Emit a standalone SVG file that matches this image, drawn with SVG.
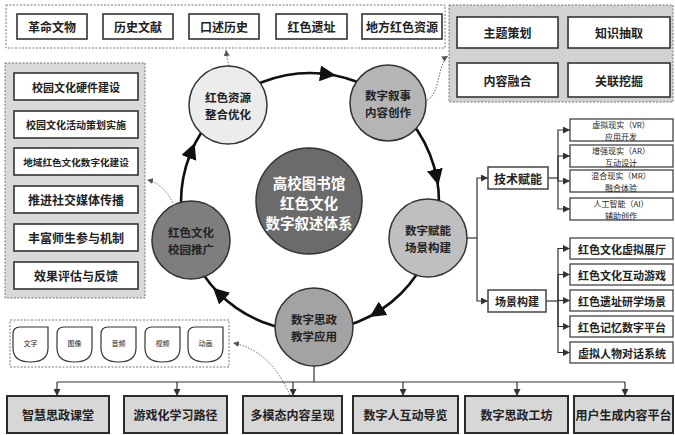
<svg xmlns="http://www.w3.org/2000/svg" width="675" height="435" viewBox="0 0 675 435">
<style>
text{font-family:"Noto Sans CJK SC","Noto Sans",sans-serif;font-weight:700;fill:#222;text-anchor:middle;dominant-baseline:central}
.box{fill:#fff;stroke:#333;stroke-width:1.6}
.pane{stroke:#777;stroke-width:1;stroke-dasharray:2 1.5}
.tb{fill:#fff;stroke:#444;stroke-width:1.3}
.bb{fill:#d7d7d7;stroke:#2a2a2a;stroke-width:2}
.node{stroke:#333;stroke-width:1.5}
.ln{fill:none;stroke:#333;stroke-width:1.2}
.la{fill:none;stroke:#333;stroke-width:1.2;marker-end:url(#a)}
.dot{fill:none;stroke:#666;stroke-width:1;stroke-dasharray:1.5 1.5;marker-end:url(#d)}
.ring{fill:none;stroke:#111;stroke-width:2.6}
.big{fill:none;stroke:#111;stroke-width:2.6;marker-end:url(#big)}
.icon{fill:#fff;stroke:#333;stroke-width:1.2}
.t12{font-size:12px}
.t11{font-size:11px}
.t10{font-size:10px}
.t8{font-size:8px;font-weight:400}
.t7{font-size:7px;font-weight:400}
.nt{font-size:11.5px}
</style>
<defs>
<marker id="a" viewBox="0 0 8 8" refX="8" refY="4" markerWidth="7" markerHeight="7" orient="auto" markerUnits="userSpaceOnUse"><path d="M0,0 L8,4 L0,8 z" fill="#333"/></marker>
<marker id="d" viewBox="0 0 8 8" refX="8" refY="4" markerWidth="6" markerHeight="6" orient="auto" markerUnits="userSpaceOnUse"><path d="M0,0 L8,4 L0,8 z" fill="#555"/></marker>
<marker id="big" viewBox="0 0 16 16" refX="8" refY="8" markerWidth="16" markerHeight="16" orient="auto" markerUnits="userSpaceOnUse"><path d="M0,0 L16,8 L0,16 z" fill="#111"/></marker>
<path id="ic" d="M35,0 L7,0 Q0,0 0,7 L0,21 Q0,35 17.5,35 Q35,35 35,21 Z"/>
</defs>

<g id="connectors">
<circle class="ring" cx="310" cy="202" r="129"/>
<path class="big" d="M319,73.3 L327.9,74.3"/>
<path class="big" d="M434.6,168.6 L436.6,177.4"/>
<path class="big" d="M384,307.7 L376.4,312.6"/>
<path class="big" d="M225.4,299.4 L218.8,293.2"/>
<path class="big" d="M188.4,158.9 L191.7,150.5"/>
<path class="dot" d="M229,66 Q227,58 226,50"/>
<path class="dot" d="M427,100 C440,95 438,62 448,56"/>
<path class="dot" d="M173,203 Q163,183 147,180"/>
<path class="dot" d="M290,395 Q270,350 233,343"/>
<path class="la" d="M558,32.5 H568"/>
<path class="la" d="M618,48 V63"/>
<path class="la" d="M568,80 H558"/>
<path class="la" d="M507,63 V48"/>
<path class="la" d="M76,100 V111"/>
<path class="la" d="M76,138 V148"/>
<path class="la" d="M76,175 V186"/>
<path class="la" d="M76,213 V224"/>
<path class="la" d="M76,251 V262"/>
<path class="ln" d="M467,238 H477"/>
<path class="la" d="M477,238 V178 H488"/>
<path class="la" d="M477,238 V301 H488"/>
<path class="ln" d="M548,178 H558"/>
<path class="la" d="M558,178 V130 H570"/>
<path class="la" d="M558,178 V156 H570"/>
<path class="la" d="M558,178 V181 H570"/>
<path class="la" d="M558,178 V209 H570"/>
<path class="ln" d="M546,301 H558"/>
<path class="la" d="M558,301 V248.5 H570"/>
<path class="la" d="M558,301 V274.5 H570"/>
<path class="la" d="M558,300.5 H570"/>
<path class="la" d="M558,301 V326.5 H570"/>
<path class="la" d="M558,301 V352.5 H570"/>
<path class="ln" d="M314,366 V382 M57,382 H625"/>
<path class="la" d="M57,382 V396"/>
<path class="la" d="M177,382 V396"/>
<path class="la" d="M293,382 V396"/>
<path class="la" d="M403,382 V396"/>
<path class="la" d="M517,382 V396"/>
<path class="la" d="M625,382 V396"/>
</g>

<g id="sources">
<rect class="pane" x="6" y="5" width="439" height="43" fill="#fff"/>
<rect class="box" x="17" y="14" width="70" height="25"/><text class="t12" x="52" y="26.5">革命文物</text>
<rect class="box" x="103" y="14" width="70" height="25"/><text class="t12" x="138" y="26.5">历史文献</text>
<rect class="box" x="189" y="14" width="70" height="25"/><text class="t12" x="224" y="26.5">口述历史</text>
<rect class="box" x="276" y="14" width="71" height="25"/><text class="t12" x="311.5" y="26.5">红色遗址</text>
<rect class="box" x="362" y="14" width="80" height="25"/><text class="t12" x="402" y="26.5">地方红色资源</text>
</g>

<g id="narrative-process">
<rect class="pane" x="449" y="5" width="224" height="97" fill="#d2d2d2"/>
<rect class="box" x="457" y="17" width="101" height="31"/><text class="t12" x="507.5" y="32.5">主题策划</text>
<rect class="box" x="568" y="17" width="102" height="31"/><text class="t12" x="619" y="32.5">知识抽取</text>
<rect class="box" x="457" y="63" width="101" height="34"/><text class="t12" x="507.5" y="80">内容融合</text>
<rect class="box" x="568" y="63" width="102" height="34"/><text class="t12" x="619" y="80">关联挖掘</text>
</g>

<g id="campus-steps">
<rect class="pane" x="5" y="63" width="140" height="235" fill="#d9d9d9"/>
<rect class="box" x="14" y="73" width="124" height="27"/><text class="t11" x="76" y="86.5">校园文化硬件建设</text>
<rect class="box" x="14" y="111" width="124" height="27"/><text class="t10" x="76" y="124.5">校园文化活动策划实施</text>
<rect class="box" x="14" y="148" width="124" height="27"/><text class="t10" x="76" y="161.5" style="font-size:9.6px">地域红色文化数字化建设</text>
<rect class="box" x="14" y="186" width="124" height="27"/><text class="t12" x="76" y="199.5">推进社交媒体传播</text>
<rect class="box" x="14" y="224" width="124" height="27"/><text class="t12" x="76" y="237.5">丰富师生参与机制</text>
<rect class="box" x="14" y="262" width="124" height="27"/><text class="t12" x="76" y="275.5">效果评估与反馈</text>
</g>

<g id="center">
<circle class="node" cx="309" cy="201" r="53" fill="#6b6b6b"/>
<text x="309" y="182" style="font-size:14.5px;fill:#fff">高校图书馆<tspan x="309" dy="20">红色文化</tspan><tspan x="309" dy="20">数字叙述体系</tspan></text>
</g>

<g id="node-resource">
<circle class="node" cx="228" cy="105" r="39" fill="#ececec"/>
<text class="nt" x="228" y="97">红色资源<tspan x="228" dy="16.5">整合优化</tspan></text>
</g>
<g id="node-narrative">
<circle class="node" cx="388" cy="103" r="38" fill="#b5b5b5"/>
<text class="nt" x="388" y="95">数字叙事<tspan x="388" dy="16.5">内容创作</tspan></text>
</g>
<g id="node-scene">
<circle class="node" cx="428" cy="238" r="39" fill="#bfbfbf"/>
<text class="nt" x="428" y="230">数字赋能<tspan x="428" dy="16.5">场景构建</tspan></text>
</g>
<g id="node-teaching">
<circle class="node" cx="314" cy="327" r="39" fill="#a3a3a3"/>
<text class="nt" x="314" y="319">数字思政<tspan x="314" dy="16.5">教学应用</tspan></text>
</g>
<g id="node-campus">
<circle class="node" cx="191" cy="240" r="39" fill="#7e7e7e"/>
<text class="nt" x="191" y="232">红色文化<tspan x="191" dy="16.5">校园推广</tspan></text>
</g>

<g id="tech">
<rect class="tb" x="488" y="167" width="60" height="22" style="stroke-width:1.5"/><text class="t12" x="518" y="178">技术赋能</text>
<rect class="tb" x="570" y="119" width="103" height="22"/><text class="t8" x="621" y="124.5">虚拟现实（VR）<tspan x="621" dy="11">应用开发</tspan></text>
<rect class="tb" x="570" y="145" width="103" height="22"/><text class="t8" x="621" y="150.5">增强现实（AR）<tspan x="621" dy="11">互动设计</tspan></text>
<rect class="tb" x="570" y="170" width="103" height="22"/><text class="t8" x="621" y="175.5">混合现实（MR）<tspan x="621" dy="11">融合体验</tspan></text>
<rect class="tb" x="570" y="198" width="103" height="22"/><text class="t8" x="621" y="203.5">人工智能（AI）<tspan x="621" dy="11">辅助创作</tspan></text>
</g>

<g id="scenes">
<rect class="tb" x="488" y="290" width="58" height="22" style="stroke-width:1.5"/><text class="t11" x="517" y="301">场景构建</text>
<rect class="tb" x="570" y="238" width="103" height="21"/><text class="t11" x="622" y="248.5">红色文化虚拟展厅</text>
<rect class="tb" x="570" y="264" width="103" height="21"/><text class="t11" x="622" y="274.5">红色文化互动游戏</text>
<rect class="tb" x="570" y="290" width="103" height="21"/><text class="t11" x="622" y="300.5">红色遗址研学场景</text>
<rect class="tb" x="570" y="316" width="103" height="21"/><text class="t11" x="622" y="326.5">红色记忆数字平台</text>
<rect class="tb" x="570" y="342" width="103" height="21"/><text class="t11" x="622" y="352.5">虚拟人物对话系统</text>
</g>

<g id="media">
<rect class="pane" x="10" y="320" width="219" height="47" fill="#fff"/>
<use href="#ic" class="icon" x="13" y="327"/><text class="t7" x="30.5" y="343">文字</text>
<use href="#ic" class="icon" x="57" y="327"/><text class="t7" x="74.5" y="343">图像</text>
<use href="#ic" class="icon" x="101" y="327"/><text class="t7" x="118.5" y="343">音频</text>
<use href="#ic" class="icon" x="145" y="327"/><text class="t7" x="162.5" y="343">视频</text>
<use href="#ic" class="icon" x="188" y="327"/><text class="t7" x="205.5" y="343">动画</text>
</g>

<g id="applications">
<rect class="bb" x="7" y="396" width="102" height="37"/><text class="t12" x="58" y="414.5">智慧思政课堂</text>
<rect class="bb" x="124" y="396" width="103" height="37"/><text class="t12" x="175.5" y="414.5">游戏化学习路径</text>
<rect class="bb" x="243" y="396" width="99" height="37"/><text class="t12" x="292.5" y="414.5">多模态内容呈现</text>
<rect class="bb" x="353" y="396" width="105" height="37"/><text class="t12" x="405.5" y="414.5">数字人互动导览</text>
<rect class="bb" x="465" y="396" width="103" height="37"/><text class="t12" x="516.5" y="414.5">数字思政工坊</text>
<rect class="bb" x="574" y="396" width="99" height="37"/><text class="t12" x="623.5" y="414.5">用户生成内容平台</text>
</g>
</svg>
